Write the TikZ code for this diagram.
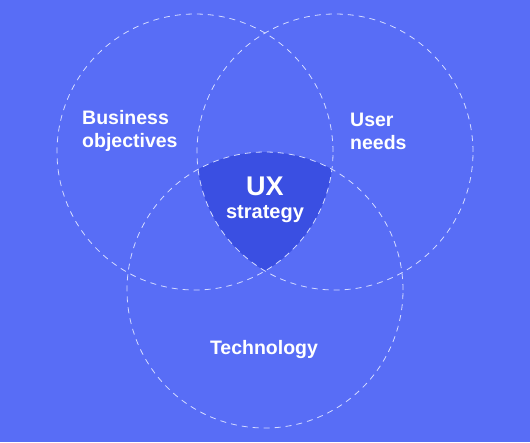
\documentclass[tikz,border=0pt]{standalone}
\usepackage{fontspec}
\setmainfont{Liberation Sans}
\usepackage{tikz}
\definecolor{vennbg}{HTML}{586DF6}
\definecolor{vennmid}{HTML}{3A4FE2}
\definecolor{venndash}{HTML}{D4DBFF}
\tikzset{
  venn/.style={circle, draw=venndash, dashed, dash pattern=on 6pt off 5pt,
    line width=0.8pt, minimum size=276pt, inner sep=0pt},
  vennlabel/.style={text=white, font=\bfseries\fontsize{19.5}{23}\selectfont,
    align=left, inner sep=0pt},
}
\begin{document}
\begin{tikzpicture}[x=1pt, y=-1pt]
  \fill[vennbg] (0,0) rectangle (530,442);
  \useasboundingbox (0,0) rectangle (530,442);
  % middle region
  \begin{scope}
    \clip (195,152) circle[radius=138];
    \clip (335,152) circle[radius=138];
    \fill[vennmid] (265,290) circle[radius=138];
  \end{scope}
  % circles
  \node[venn] (business) at (195,152) {};
  \node[venn] (user) at (335,152) {};
  \node[venn] (tech) at (265,290) {};
  % labels
  \node[vennlabel, anchor=west] (business-label) at (82,131) {Business\\objectives};
  \node[vennlabel, anchor=west] (user-label) at (350,131) {User\\needs};
  \node[vennlabel, align=center, font=\bfseries\fontsize{27}{30}\selectfont] (ux-label) at (265,186) {UX};
  \node[vennlabel, align=center, font=\bfseries\fontsize{20}{23}\selectfont] (strategy-label) at (265,214) {strategy};
  \node[vennlabel] (tech-label) at (264,349) {Technology};
\end{tikzpicture}
\end{document}
